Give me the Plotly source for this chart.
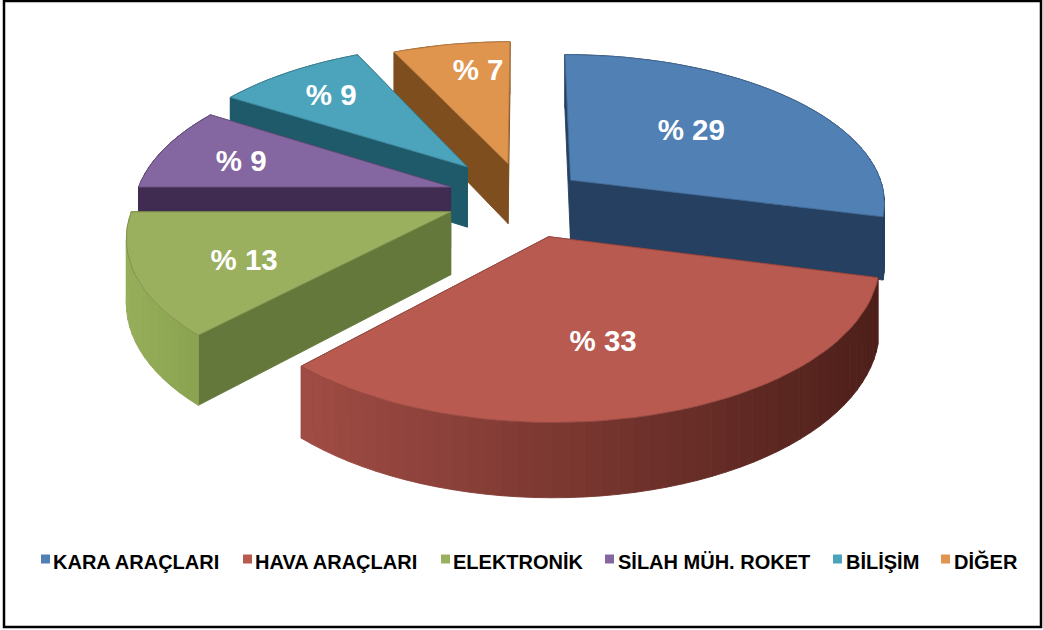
import math
import plotly.graph_objects as go

# ---- data ----
categories = ["KARA ARAÇLARI", "HAVA ARAÇLARI", "ELEKTRONİK", "SİLAH MÜH. ROKET", "BİLİŞİM", "DİĞER"]
shares = [29, 33, 13, 9, 9, 7]
value_labels = ["% 29", "% 33", "% 13", "% 9", "% 9", "% 7"]

# ---- style ----
top_colors = ["#5080B4", "#B85A50", "#9BB05F", "#8466A0", "#4BA3BC", "#E0954E"]
cut_colors = ["#254060", "#7A2E28", "#64783C", "#3F2C50", "#1F5A6B", "#7F4E1E"]
rim_left = ["#254060", "#A04C44", "#96AE5A", "#3F2C50", "#1F5A6B", "#7F4E1E"]
rim_right = ["#254060", "#4E1F1A", "#8AA350", "#3F2C50", "#1F5A6B", "#7F4E1E"]
explode = [0.19, 0.27, 0.25, 0.245, 0.28, 0.24]
label_radius = [0.56, 0.615, 0.68, 0.72, 0.745, 0.758]
label_turn = [-4, 2.5, -3, -1, 0, 4]
draw_order = [0, 5, 4, 3, 2, 1]
swatch_x = [45.5, 247.5, 445.5, 609.5, 837.5, 945.5]
legend_text_x = [53, 255, 453, 618, 846, 954]

W, H = 1043, 630
X0, Y0, RX, RY, PERSP, DEPTH = 524, 197, 315, 147.5, 0.14, 62
LABEL_DROP = 3


def project(u, v, down=0.0):
    w = 1 + PERSP * v
    return X0 + RX * u / w, Y0 - RY * v / w + down * DEPTH / w


def mix(a, b, t):
    t = max(0.0, min(1.0, t))
    ca = [int(a[i:i + 2], 16) for i in (1, 3, 5)]
    cb = [int(b[i:i + 2], 16) for i in (1, 3, 5)]
    return "#%02x%02x%02x" % tuple(round(x + (y - x) * t) for x, y in zip(ca, cb))


def poly(fig, pts, fill, line=None, width=0.9):
    fig.add_trace(go.Scatter(
        x=[p[0] for p in pts] + [pts[0][0]],
        y=[p[1] for p in pts] + [pts[0][1]],
        mode="lines", fill="toself", fillcolor=fill,
        line=dict(color=line or fill, width=width),
        hoverinfo="skip", showlegend=False))


fig = go.Figure()

total = sum(shares)
starts = []
acc = 0.0
for s in shares:
    starts.append(acc)
    acc += 360.0 * s / total

for i in draw_order:
    a0 = starts[i]
    a1 = a0 + 360.0 * shares[i] / total
    mid = math.radians((a0 + a1) / 2)
    cu, cv = explode[i] * math.sin(mid), explode[i] * math.cos(mid)
    n = max(4, int((a1 - a0) / 2.5))
    rim = []
    for k in range(n + 1):
        t = math.radians(a0 + (a1 - a0) * k / n)
        rim.append((cu + math.sin(t), cv + math.cos(t)))

    faces = []
    for p in (rim[0], rim[-1]):
        mv = (p[1] + cv) / 2
        quad = [project(cu, cv), project(*p), project(*p, 1), project(cu, cv, 1)]
        faces.append((mv, quad, cut_colors[i]))
    xs = [project(*p)[0] for p in rim]
    xmin, xmax = min(xs), max(xs)
    for k in range(n):
        p, q = rim[k], rim[k + 1]
        quad = [project(*p), project(*q), project(*q, 1), project(*p, 1)]
        frac = ((quad[0][0] + quad[1][0]) / 2 - xmin) / max(1, xmax - xmin)
        faces.append(((p[1] + q[1]) / 2, quad, mix(rim_left[i], rim_right[i], frac)))
    faces.sort(key=lambda f: -f[0])
    for _, quad, col in faces:
        poly(fig, quad, col)
    top = [project(cu, cv)] + [project(*p) for p in rim]
    poly(fig, top, top_colors[i], mix(top_colors[i], "#000000", 0.18))

# value labels
lx, ly = [], []
for i in range(len(shares)):
    a0 = starts[i]
    a1 = a0 + 360.0 * shares[i] / total
    mid = math.radians((a0 + a1) / 2)
    t = math.radians((a0 + a1) / 2 + label_turn[i])
    u = explode[i] * math.sin(mid) + label_radius[i] * math.sin(t)
    v = explode[i] * math.cos(mid) + label_radius[i] * math.cos(t)
    px, py = project(u, v)
    lx.append(px)
    ly.append(py + LABEL_DROP)
fig.add_trace(go.Scatter(x=lx, y=ly, mode="text", text=value_labels, textposition="middle center",
                         textfont=dict(family="Liberation Sans", size=29.5, color="white",
                                       weight="bold"),
                         hoverinfo="skip", showlegend=False))

# legend row
fig.add_trace(go.Scatter(x=swatch_x, y=[559] * 6, mode="markers",
                         marker=dict(symbol="square", size=9, color=top_colors, line=dict(width=0)),
                         hoverinfo="skip", showlegend=False))
fig.add_trace(go.Scatter(x=legend_text_x, y=[564] * 6, mode="text", text=categories,
                         textposition="middle right",
                         textfont=dict(family="Liberation Sans", size=20, color="black",
                                       weight="bold"),
                         hoverinfo="skip", showlegend=False))

# outer frame
fig.add_shape(type="rect", x0=4, y0=1, x1=1041, y1=627, line=dict(color="black", width=2.5),
              fillcolor="rgba(0,0,0,0)", layer="above")

fig.update_layout(
    width=W, height=H, autosize=False,
    margin=dict(l=0, r=0, t=0, b=0),
    paper_bgcolor="white", plot_bgcolor="white",
    showlegend=False,
    xaxis=dict(range=[0, W], visible=False, fixedrange=True),
    yaxis=dict(range=[H, 0], visible=False, fixedrange=True),
)

fig.write_html("out.html", config={"displayModeBar": False},
               post_script="document.body.style.margin='0';document.body.style.overflow='hidden';")
